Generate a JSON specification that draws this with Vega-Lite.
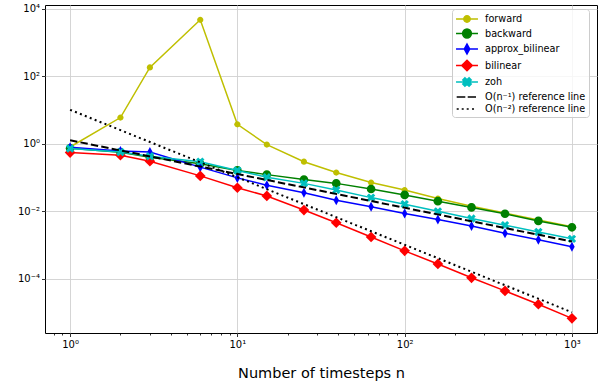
{
  "$schema": "https://vega.github.io/schema/vega-lite/v6.json",
  "width": 552,
  "height": 328,
  "autosize": {"type": "none"},
  "padding": {"left": 45, "top": 5, "right": 4, "bottom": 53},
  "config": {
    "view": {"stroke": "#000000", "strokeWidth": 1},
    "font": "DejaVu Sans",
    "axis": {
      "domain": false,
      "labelFont": "DejaVu Sans",
      "labelFontSize": 10,
      "labelColor": "#000000",
      "tickColor": "#000000",
      "tickWidth": 0.8,
      "gridColor": "#d0d0d0",
      "gridWidth": 0.9,
      "titleFont": "DejaVu Sans",
      "titleFontWeight": "normal",
      "titleColor": "#000000"
    }
  },
  "datasets": {
    "d": [
      {"series": "forward", "n": 1, "err": 0.79},
      {"series": "forward", "n": 2, "err": 5.9},
      {"series": "forward", "n": 3, "err": 180},
      {"series": "forward", "n": 6, "err": 4650},
      {"series": "forward", "n": 10, "err": 3.7},
      {"series": "forward", "n": 15, "err": 0.93},
      {"series": "forward", "n": 25, "err": 0.29},
      {"series": "forward", "n": 39, "err": 0.138},
      {"series": "forward", "n": 63, "err": 0.07},
      {"series": "forward", "n": 100, "err": 0.042},
      {"series": "forward", "n": 158, "err": 0.0235},
      {"series": "forward", "n": 251, "err": 0.0138},
      {"series": "forward", "n": 398, "err": 0.0087},
      {"series": "forward", "n": 630, "err": 0.0054},
      {"series": "forward", "n": 1000, "err": 0.0034},
      {"series": "backward", "n": 1, "err": 0.72},
      {"series": "backward", "n": 2, "err": 0.55},
      {"series": "backward", "n": 3, "err": 0.39},
      {"series": "backward", "n": 6, "err": 0.25},
      {"series": "backward", "n": 10, "err": 0.16},
      {"series": "backward", "n": 15, "err": 0.12},
      {"series": "backward", "n": 25, "err": 0.086},
      {"series": "backward", "n": 39, "err": 0.066},
      {"series": "backward", "n": 63, "err": 0.045},
      {"series": "backward", "n": 100, "err": 0.03},
      {"series": "backward", "n": 158, "err": 0.0196},
      {"series": "backward", "n": 251, "err": 0.0128},
      {"series": "backward", "n": 398, "err": 0.0083},
      {"series": "backward", "n": 630, "err": 0.0051},
      {"series": "backward", "n": 1000, "err": 0.0033},
      {"series": "approx_bilinear", "n": 1, "err": 0.78},
      {"series": "approx_bilinear", "n": 2, "err": 0.6},
      {"series": "approx_bilinear", "n": 3, "err": 0.56},
      {"series": "approx_bilinear", "n": 6, "err": 0.2},
      {"series": "approx_bilinear", "n": 10, "err": 0.096},
      {"series": "approx_bilinear", "n": 15, "err": 0.058},
      {"series": "approx_bilinear", "n": 25, "err": 0.035},
      {"series": "approx_bilinear", "n": 39, "err": 0.021},
      {"series": "approx_bilinear", "n": 63, "err": 0.0133},
      {"series": "approx_bilinear", "n": 100, "err": 0.0085},
      {"series": "approx_bilinear", "n": 158, "err": 0.0056},
      {"series": "approx_bilinear", "n": 251, "err": 0.0036},
      {"series": "approx_bilinear", "n": 398, "err": 0.0022},
      {"series": "approx_bilinear", "n": 630, "err": 0.0014},
      {"series": "approx_bilinear", "n": 1000, "err": 0.00087},
      {"series": "bilinear", "n": 1, "err": 0.54},
      {"series": "bilinear", "n": 2, "err": 0.45},
      {"series": "bilinear", "n": 3, "err": 0.3},
      {"series": "bilinear", "n": 6, "err": 0.11},
      {"series": "bilinear", "n": 10, "err": 0.049},
      {"series": "bilinear", "n": 15, "err": 0.028},
      {"series": "bilinear", "n": 25, "err": 0.0107},
      {"series": "bilinear", "n": 39, "err": 0.0045},
      {"series": "bilinear", "n": 63, "err": 0.0017},
      {"series": "bilinear", "n": 100, "err": 0.00066},
      {"series": "bilinear", "n": 158, "err": 0.00027},
      {"series": "bilinear", "n": 251, "err": 0.000105},
      {"series": "bilinear", "n": 398, "err": 0.000043},
      {"series": "bilinear", "n": 630, "err": 0.0000173},
      {"series": "bilinear", "n": 1000, "err": 0.0000066},
      {"series": "zoh", "n": 1, "err": 0.71},
      {"series": "zoh", "n": 2, "err": 0.56},
      {"series": "zoh", "n": 3, "err": 0.42},
      {"series": "zoh", "n": 6, "err": 0.29},
      {"series": "zoh", "n": 10, "err": 0.16},
      {"series": "zoh", "n": 15, "err": 0.1},
      {"series": "zoh", "n": 25, "err": 0.066},
      {"series": "zoh", "n": 39, "err": 0.042},
      {"series": "zoh", "n": 63, "err": 0.025},
      {"series": "zoh", "n": 100, "err": 0.016},
      {"series": "zoh", "n": 158, "err": 0.0098},
      {"series": "zoh", "n": 251, "err": 0.006},
      {"series": "zoh", "n": 398, "err": 0.0038},
      {"series": "zoh", "n": 630, "err": 0.0024},
      {"series": "zoh", "n": 1000, "err": 0.0015}
    ],
    "r": [
      {"series": "O(n⁻¹) reference line", "n": 1, "err": 1.25},
      {"series": "O(n⁻¹) reference line", "n": 1000, "err": 0.00125},
      {"series": "O(n⁻²) reference line", "n": 1, "err": 10},
      {"series": "O(n⁻²) reference line", "n": 1000, "err": 0.00001}
    ]
  },
  "data": {"name": "d"},
  "encoding": {
    "x": {
      "field": "n",
      "type": "quantitative",
      "scale": {"type": "log", "domain": [0.708, 1412], "nice": false},
      "axis": {
        "title": "Number of timesteps n",
        "titleFontSize": 14.5,
        "titlePadding": 17,
        "values": [0.8, 0.9, 1, 2, 3, 4, 5, 6, 7, 8, 9, 10, 20, 30, 40, 50, 60, 70, 80, 90, 100, 200, 300, 400, 500, 600, 700, 800, 900, 1000],
        "labelExpr": "datum.value == 1 ? '10⁰' : datum.value == 10 ? '10¹' : datum.value == 100 ? '10²' : datum.value == 1000 ? '10³' : ''",
        "labelOverlap": false,
        "labelFlush": false,
        "labelPadding": 3,
        "tickSize": {"condition": {"test": "datum.value == 1 || datum.value == 10 || datum.value == 100 || datum.value == 1000", "value": 3.5}, "value": 2},
        "gridOpacity": {"condition": {"test": "datum.value == 1 || datum.value == 10 || datum.value == 100 || datum.value == 1000", "value": 1}, "value": 0},
        "grid": true
      }
    },
    "y": {
      "field": "err",
      "type": "quantitative",
      "scale": {"type": "log", "domain": [2.43e-6, 12760], "nice": false},
      "axis": {
        "title": null,
        "values": [0.0001, 0.01, 1, 100, 10000],
        "labelExpr": "datum.value < 0.001 ? '10⁻⁴' : datum.value < 0.1 ? '10⁻²' : datum.value < 10 ? '10⁰' : datum.value < 1000 ? '10²' : '10⁴'",
        "tickSize": 3.5,
        "labelPadding": 2,
        "grid": true
      }
    },
    "color": {
      "field": "series",
      "type": "nominal",
      "scale": {
        "domain": ["forward", "backward", "approx_bilinear", "bilinear", "zoh", "O(n⁻¹) reference line", "O(n⁻²) reference line"],
        "range": ["#bfbf00", "#008000", "#0000ff", "#ff0000", "#00bfbf", "#000000", "#000000"]
      }
    }
  },
  "layer": [
    {
      "transform": [{"filter": "datum.series === 'forward'"}],
      "layer": [
        {"mark": {"type": "line", "strokeWidth": 1.5}},
        {"mark": {"type": "point", "filled": true, "opacity": 1, "size": 100, "shape": "M-0.62,0A0.62,0.62,0,1,1,0.62,0A0.62,0.62,0,1,1,-0.62,0Z"}}
      ]
    },
    {
      "transform": [{"filter": "datum.series === 'backward'"}],
      "layer": [
        {"mark": {"type": "line", "strokeWidth": 1.5}},
        {"mark": {"type": "point", "filled": true, "opacity": 1, "size": 100, "shape": "M-0.87,0A0.87,0.87,0,1,1,0.87,0A0.87,0.87,0,1,1,-0.87,0Z"}}
      ]
    },
    {
      "transform": [{"filter": "datum.series === 'approx_bilinear'"}],
      "layer": [
        {"mark": {"type": "line", "strokeWidth": 1.5}},
        {"mark": {"type": "point", "filled": true, "opacity": 1, "size": 100, "shape": "M0,-1L0.55,0L0,1L-0.55,0Z"}}
      ]
    },
    {
      "transform": [{"filter": "datum.series === 'bilinear'"}],
      "layer": [
        {"mark": {"type": "line", "strokeWidth": 1.5}},
        {"mark": {"type": "point", "filled": true, "opacity": 1, "size": 100, "shape": "M0,-1.07L1.07,0L0,1.07L-1.07,0Z"}}
      ]
    },
    {
      "transform": [{"filter": "datum.series === 'zoh'"}],
      "layer": [
        {"mark": {"type": "line", "strokeWidth": 1.5}},
        {"mark": {"type": "point", "filled": true, "opacity": 1, "size": 100, "shape": "M-0.42,-0.84L0,-0.42L0.42,-0.84L0.84,-0.42L0.42,0L0.84,0.42L0.42,0.84L0,0.42L-0.42,0.84L-0.84,0.42L-0.42,0L-0.84,-0.42Z"}}
      ]
    },
    {
      "data": {"name": "r"},
      "transform": [{"filter": "datum.series === 'O(n⁻¹) reference line'"}],
      "mark": {"type": "line", "strokeWidth": 2, "strokeDash": [7.4, 3.2]}
    },
    {
      "data": {"name": "r"},
      "transform": [{"filter": "datum.series === 'O(n⁻²) reference line'"}],
      "mark": {"type": "line", "strokeWidth": 2, "strokeDash": [2, 3.3]}
    },
    {
      "data": {"values": [{"series": "forward", "n": 1, "err": 1}]},
      "transform": [{"filter": "datum.n < 0"}],
      "mark": {"type": "point", "filled": true, "opacity": 1},
      "encoding": {
        "color": {
          "field": "series",
          "type": "nominal",
          "scale": {
            "domain": ["forward", "backward", "approx_bilinear", "bilinear", "zoh", "O(n⁻¹) reference line", "O(n⁻²) reference line"],
            "range": ["#bfbf00", "#008000", "#0000ff", "#ff0000", "#00bfbf", "#000000", "#000000"]
          },
          "legend": {
            "title": null,
            "orient": "none",
            "legendX": 407,
            "legendY": 4,
            "symbolSize": 144,
            "symbolStrokeWidth": 1.5,
            "symbolOpacity": 1,
            "symbolOffset": 5,
            "labelFont": "DejaVu Sans",
            "labelFontSize": 9.7,
            "labelColor": "#000000",
            "labelOffset": 11,
            "padding": 3,
            "rowPadding": -0.5,
            "strokeColor": "#cccccc",
            "fillColor": "rgba(255,255,255,0.8)",
            "cornerRadius": 3
          }
        },
        "shape": {
          "field": "series",
          "type": "nominal",
          "scale": {
            "domain": ["forward", "backward", "approx_bilinear", "bilinear", "zoh", "O(n⁻¹) reference line", "O(n⁻²) reference line"],
            "range": [
              "M-1.83,0L1.83,0M-0.53,0A0.53,0.53,0,1,1,0.53,0A0.53,0.53,0,1,1,-0.53,0Z",
              "M-1.83,0L1.83,0M-0.73,0A0.73,0.73,0,1,1,0.73,0A0.73,0.73,0,1,1,-0.73,0Z",
              "M-1.83,0L1.83,0M0,-0.83L0.45,0L0,0.83L-0.45,0Z",
              "M-1.83,0L1.83,0M0,-0.88L0.88,0L0,0.88L-0.88,0Z",
              "M-1.83,0L1.83,0M-0.35,-0.7L0,-0.35L0.35,-0.7L0.7,-0.35L0.35,0L0.7,0.35L0.35,0.7L0,0.35L-0.35,0.7L-0.7,0.35L-0.35,0L-0.7,-0.35Z",
              "M-1.72,0L-0.28,0M0.12,0L1.5,0",
              "M-1.72,0L-1.38,0M-0.88,0L-0.55,0M-0.05,0L0.28,0M0.83,0L1.17,0"
            ]
          },
          "legend": {
            "title": null,
            "orient": "none",
            "legendX": 407,
            "legendY": 4,
            "symbolSize": 144,
            "symbolStrokeWidth": 1.5,
            "symbolOpacity": 1,
            "symbolOffset": 5,
            "labelFont": "DejaVu Sans",
            "labelFontSize": 9.7,
            "labelColor": "#000000",
            "labelOffset": 11,
            "padding": 3,
            "rowPadding": -0.5,
            "strokeColor": "#cccccc",
            "fillColor": "rgba(255,255,255,0.8)",
            "cornerRadius": 3,
            "encode": {
              "symbols": {
                "update": {
                  "fill": {"scale": "color", "field": "value"},
                  "stroke": {"scale": "color", "field": "value"},
                  "strokeWidth": {"signal": "indexof(datum.value, 'reference') >= 0 ? 2 : 1.5"}
                }
              }
            }
          }
        }
      }
    }
  ]
}
